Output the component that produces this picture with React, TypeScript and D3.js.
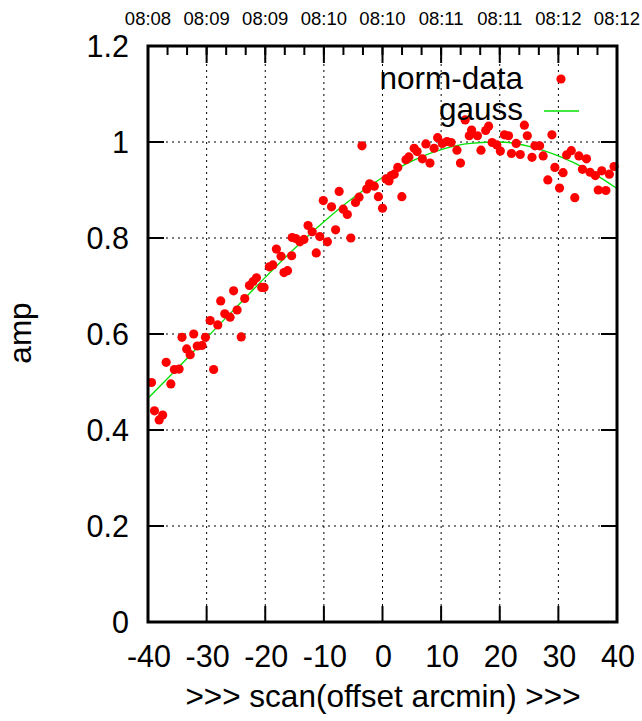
import React from 'react';
import * as d3 from 'd3';

const xTicks = [-40, -30, -20, -10, 0, 10, 20, 30, 40];
const yTicks = [0, 0.2, 0.4, 0.6, 0.8, 1.0, 1.2];
const yTickLabels = ['0', '0.2', '0.4', '0.6', '0.8', '1', '1.2'];
const timeLabels = ['08:08', '08:09', '08:09', '08:10', '08:10', '08:11', '08:11', '08:12', '08:12'];

const dataX = [
  -39.4, -38.9, -38.1, -37.5, -36.9, -36.1, -35.5, -34.7, -34.2, -33.4, -32.8, -32.2, -31.6, -30.8, -30.2,
  -29.4, -28.8, -28.1, -27.6, -26.9, -26.0, -25.4, -24.8, -24.1, -23.5, -22.7, -22.1, -21.5, -20.6, -20.2,
  -19.3, -18.7, -18.1, -17.3, -16.8, -16.2, -15.5, -15.4, -14.8, -14.1, -13.4, -12.7, -12.0, -11.3, -10.7,
  -10.1, -9.4, -8.7, -8.0, -7.4, -6.7, -6.0, -5.4, -4.6, -4.0, -3.5, -2.7, -2.2, -1.4, -0.7,
  0.0, 0.6, 1.1, 1.5, 2.0, 2.6, 3.3, 4.0, 4.5, 5.4, 5.9, 6.8, 7.4, 8.1, 8.8,
  9.4, 10.2, 11.0, 11.7, 12.7, 13.3, 14.1, 14.8, 15.2, 16.2, 16.8, 17.6, 18.1, 18.7, 19.5,
  20.1, 20.8, 21.5, 22.0, 22.8, 23.5, 24.2, 24.7, 25.5, 26.0, 26.8, 27.4, 28.2, 28.9, 29.4,
  30.2, 30.8, 31.4, 32.2, 32.8, 33.5, 34.1, 34.8, 35.4, 36.3, 36.8, 37.4, 38.1, 38.7, 39.5,
];
const dataY = [
  0.499, 0.440, 0.421, 0.431, 0.541, 0.496, 0.526, 0.527, 0.593, 0.569, 0.557, 0.600, 0.575, 0.576, 0.593,
  0.628, 0.526, 0.619, 0.669, 0.642, 0.635, 0.690, 0.650, 0.594, 0.674, 0.701, 0.709, 0.717, 0.697, 0.697,
  0.740, 0.744, 0.777, 0.762, 0.728, 0.732, 0.763, 0.801, 0.799, 0.792, 0.797, 0.826, 0.813, 0.769, 0.803,
  0.878, 0.792, 0.865, 0.817, 0.897, 0.860, 0.849, 0.800, 0.874, 0.885, 0.992, 0.902, 0.913, 0.908, 0.886,
  0.862, 0.923, 0.919, 0.930, 0.933, 0.947, 0.886, 0.963, 0.969, 0.987, 0.980, 0.965, 0.996, 0.956, 0.987,
  1.009, 0.997, 1.001, 0.999, 0.983, 0.956, 1.046, 1.013, 1.025, 1.013, 0.983, 1.024, 1.033, 0.999, 0.994,
  0.981, 1.015, 1.013, 0.976, 0.997, 0.974, 1.035, 1.013, 0.968, 0.992, 0.992, 0.971, 0.921, 1.015, 0.947,
  0.904, 0.936, 0.973, 0.982, 0.884, 0.971, 0.943, 0.965, 0.937, 0.930, 0.900, 0.940, 0.899, 0.933, 0.949,
];

const gaussX = [-40, -35, -30, -25, -20, -15, -10, -5, 0, 5, 10, 15, 20, 25, 30, 35, 40];
const gaussY = [0.466, 0.528, 0.592, 0.655, 0.718, 0.778, 0.834, 0.884, 0.926, 0.960, 0.984, 0.997, 1.0, 0.991, 0.971, 0.942, 0.903];

const FONT = "'Liberation Sans', Arial, Helvetica, sans-serif";

export default function App() {
  const W = 642, H = 721;
  const left = 148, right = 617, top = 46, bottom = 622;
  const x = d3.scaleLinear().domain([-40, 40]).range([left, right]);
  const y = d3.scaleLinear().domain([0, 1.2]).range([bottom, top]);

  const pts = dataX.map((v, i) => [v, dataY[i]] as [number, number]);
  const gaussPts = gaussX.map((v, i) => [v, gaussY[i]] as [number, number]);
  const line = d3.line<[number, number]>().x(d => x(d[0])).y(d => y(d[1])).curve(d3.curveMonotoneX);

  const minorTop = d3.range(-40, 40.001, 10 / 3);
  const tickLen = 16;
  const minorLen = 9;

  return (
    <svg width={W} height={H} style={{ position: 'absolute', left: 0, top: 0, background: '#fff' }}
      fontFamily={FONT}>
      <rect x={0} y={0} width={W} height={H} fill="#fff" />
      {/* grid */}
      {xTicks.slice(1, -1).map(t => (
        <line key={'gx' + t} x1={x(t)} x2={x(t)} y1={top} y2={bottom} stroke="#000" strokeWidth={1} strokeDasharray="2,4" />
      ))}
      {yTicks.slice(1, -1).map(t => (
        <line key={'gy' + t} x1={left} x2={right} y1={y(t)} y2={y(t)} stroke="#000" strokeWidth={1} strokeDasharray="2,4" />
      ))}
      {/* ticks */}
      {xTicks.map(t => (
        <g key={'xt' + t}>
          <line x1={x(t)} x2={x(t)} y1={bottom} y2={bottom - tickLen} stroke="#000" strokeWidth={2} />
          <line x1={x(t)} x2={x(t)} y1={top} y2={top + tickLen + 1} stroke="#000" strokeWidth={2} />
        </g>
      ))}
      {minorTop.map((t, i) => (
        <line key={'mt' + i} x1={x(t)} x2={x(t)} y1={top} y2={top + minorLen} stroke="#000" strokeWidth={2} />
      ))}
      {yTicks.map(t => (
        <g key={'yt' + t}>
          <line x1={left} x2={left + tickLen} y1={y(t)} y2={y(t)} stroke="#000" strokeWidth={2} />
          <line x1={right} x2={right - tickLen} y1={y(t)} y2={y(t)} stroke="#000" strokeWidth={2} />
        </g>
      ))}
      {/* gauss */}
      <path d={line(gaussPts) || ''} fill="none" stroke="#00e000" strokeWidth={1.3} />
      {/* data */}
      {pts.map((p, i) => (
        <circle key={'p' + i} cx={x(p[0])} cy={y(p[1])} r={4.6} fill="#ff0000" />
      ))}
      {/* border */}
      <rect x={left} y={top} width={right - left} height={bottom - top} fill="none" stroke="#000" strokeWidth={3} />
      {/* tick labels */}
      {yTicks.map((t, i) => (
        <text key={'yl' + t} x={129} y={y(t) + 11} textAnchor="end" fontSize={30.5}>{yTickLabels[i]}</text>
      ))}
      {xTicks.map(t => (
        <text key={'xl' + t} x={x(t) + 1} y={667} textAnchor="middle" fontSize={30.5}>{t}</text>
      ))}
      {xTicks.map((t, i) => (
        <text key={'tl' + i} x={x(t)} y={25} textAnchor="middle" fontSize={18.5}>{timeLabels[i]}</text>
      ))}
      {/* axis titles */}
      <text x={383} y={707} textAnchor="middle" fontSize={31.5}>{'>>> scan(offset arcmin) >>>'}</text>
      <text transform="translate(31,333) rotate(-90)" textAnchor="middle" fontSize={31.5}>amp</text>
      {/* legend */}
      <text x={523} y={89} textAnchor="end" fontSize={31.5}>norm-data</text>
      <circle cx={561} cy={79} r={4.6} fill="#ff0000" />
      <text x={523} y={120} textAnchor="end" fontSize={31.5}>gauss</text>
      <line x1={544} x2={579} y1={111} y2={111} stroke="#00e000" strokeWidth={1.3} />
    </svg>
  );
}
